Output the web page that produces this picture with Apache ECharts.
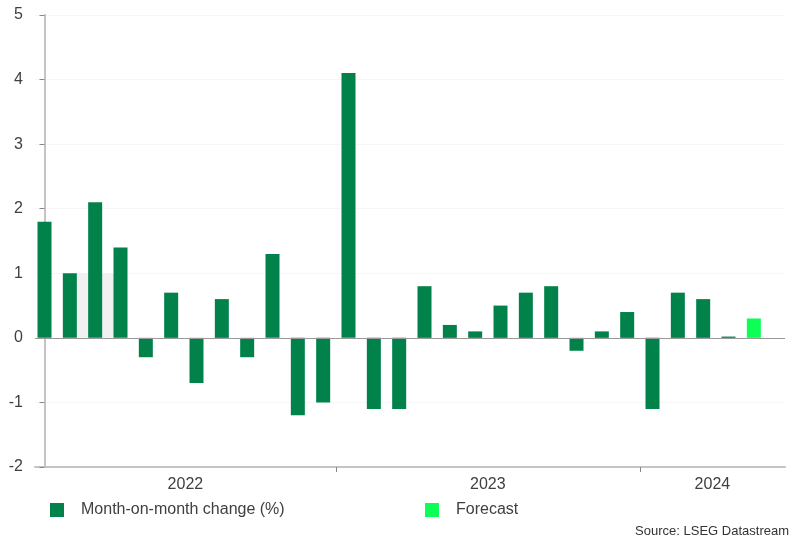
<!DOCTYPE html>
<html>
<head>
<meta charset="utf-8">
<script src="https://cdn.jsdelivr.net/npm/echarts@6/dist/echarts.min.js"></script>
<style>html,body{margin:0;padding:0;background:#fff}#c{width:801px;height:541px}</style>
</head>
<body>
<div id="c"></div>
<script>
// Months Jan 2022 .. May 2024
const months = ['2022-01','2022-02','2022-03','2022-04','2022-05','2022-06','2022-07','2022-08','2022-09','2022-10','2022-11','2022-12',
  '2023-01','2023-02','2023-03','2023-04','2023-05','2023-06','2023-07','2023-08','2023-09','2023-10','2023-11','2023-12',
  '2024-01','2024-02','2024-03','2024-04','2024-05'];
const momChange = [1.8, 1.0, 2.1, 1.4, -0.3, 0.7, -0.7, 0.6, -0.3, 1.3, -1.2, -1.0,
  4.1, -1.1, -1.1, 0.8, 0.2, 0.1, 0.5, 0.7, 0.8, -0.2, 0.1, 0.4,
  -1.1, 0.7, 0.6, 0.02, null];
const forecast = [null, null, null, null, null, null, null, null, null, null, null, null,
  null, null, null, null, null, null, null, null, null, null, null, null,
  null, null, null, null, 0.3];
const years = ['2022', '2023', '2024'];
const yTicks = [-2, -1, 0, 1, 2, 3, 4, 5];

const xMin = -0.375, xMax = 29.23;
// year boundaries (between Dec and Jan)
const boundaries = [];
for (let i = 1; i < months.length; i++) {
  if (months[i].slice(0,4) !== months[i-1].slice(0,4)) boundaries.push(i - 0.5);
}
const edges = [xMin].concat(boundaries, [xMax]);
const yearCenters = years.map((y, k) => (edges[k] + edges[k+1]) / 2);

const toPairs = arr => arr.map((v, i) => [i, v]);

const chart = echarts.init(document.getElementById('c'));
chart.setOption({
  animation: false,
  textStyle: { fontFamily: 'Liberation Sans, Arial, sans-serif' },
  grid: { left: 35, right: 16, top: 15, bottom: 74 },
  xAxis: {
    type: 'value', min: xMin, max: xMax,
    splitLine: { show: false },
    axisLine: { show: true, onZero: false, lineStyle: { color: '#c4c4c4', width: 2 } },
    axisTick: { show: true, customValues: boundaries, length: 5, lineStyle: { color: '#888', width: 1 } },
    axisLabel: {
      customValues: yearCenters, margin: 10, fontSize: 16, color: '#404040',
      formatter: v => { let k = 0; while (k < boundaries.length && v > boundaries[k]) k++; return years[k]; }
    }
  },
  yAxis: {
    type: 'value', min: yTicks[0], max: yTicks[yTicks.length-1], interval: 1,
    axisLine: { show: true, lineStyle: { color: '#c4c4c4', width: 2 } },
    axisTick: { show: true, length: 5, lineStyle: { color: '#888' } },
    axisLabel: { fontSize: 16, color: '#404040', margin: 12 },
    splitLine: { show: true, lineStyle: { color: '#f7f7f7', width: 1 } }
  },
  legend: [
    { left: 50, top: 502, padding: 0, itemWidth: 14, itemHeight: 14, icon: 'rect',
      data: ['Month-on-month change (%)'],
      textStyle: { fontSize: 16, color: '#404040', padding: [0,0,0,12] } },
    { left: 425, top: 502, padding: 0, itemWidth: 14, itemHeight: 14, icon: 'rect',
      data: ['Forecast'],
      textStyle: { fontSize: 16, color: '#404040', padding: [0,0,0,12] } }
  ],
  title: {
    text: 'Source: LSEG Datastream', right: 12, top: 525, padding: 0,
    textStyle: { fontSize: 13, fontWeight: 'normal', color: '#333' }
  },
  series: [
    {
      name: 'Month-on-month change (%)', type: 'bar', barWidth: 14, barGap: '-100%',
      itemStyle: { color: '#00824a' },
      data: toPairs(momChange),
      markArea: {
        silent: true, itemStyle: { color: '#f1f1f1' },
        data: [[{ coord: [1, 0] }, { coord: [3, 1] }]]
      },
      markLine: {
        silent: true, symbol: 'none', label: { show: false },
        lineStyle: { color: '#999', type: 'solid', width: 1 },
        data: [{ yAxis: 0 }]
      }
    },
    {
      name: 'Forecast', type: 'bar', barWidth: 14, barGap: '-100%',
      itemStyle: { color: '#0dff55' },
      data: toPairs(forecast)
    }
  ]
});
</script>
</body>
</html>
